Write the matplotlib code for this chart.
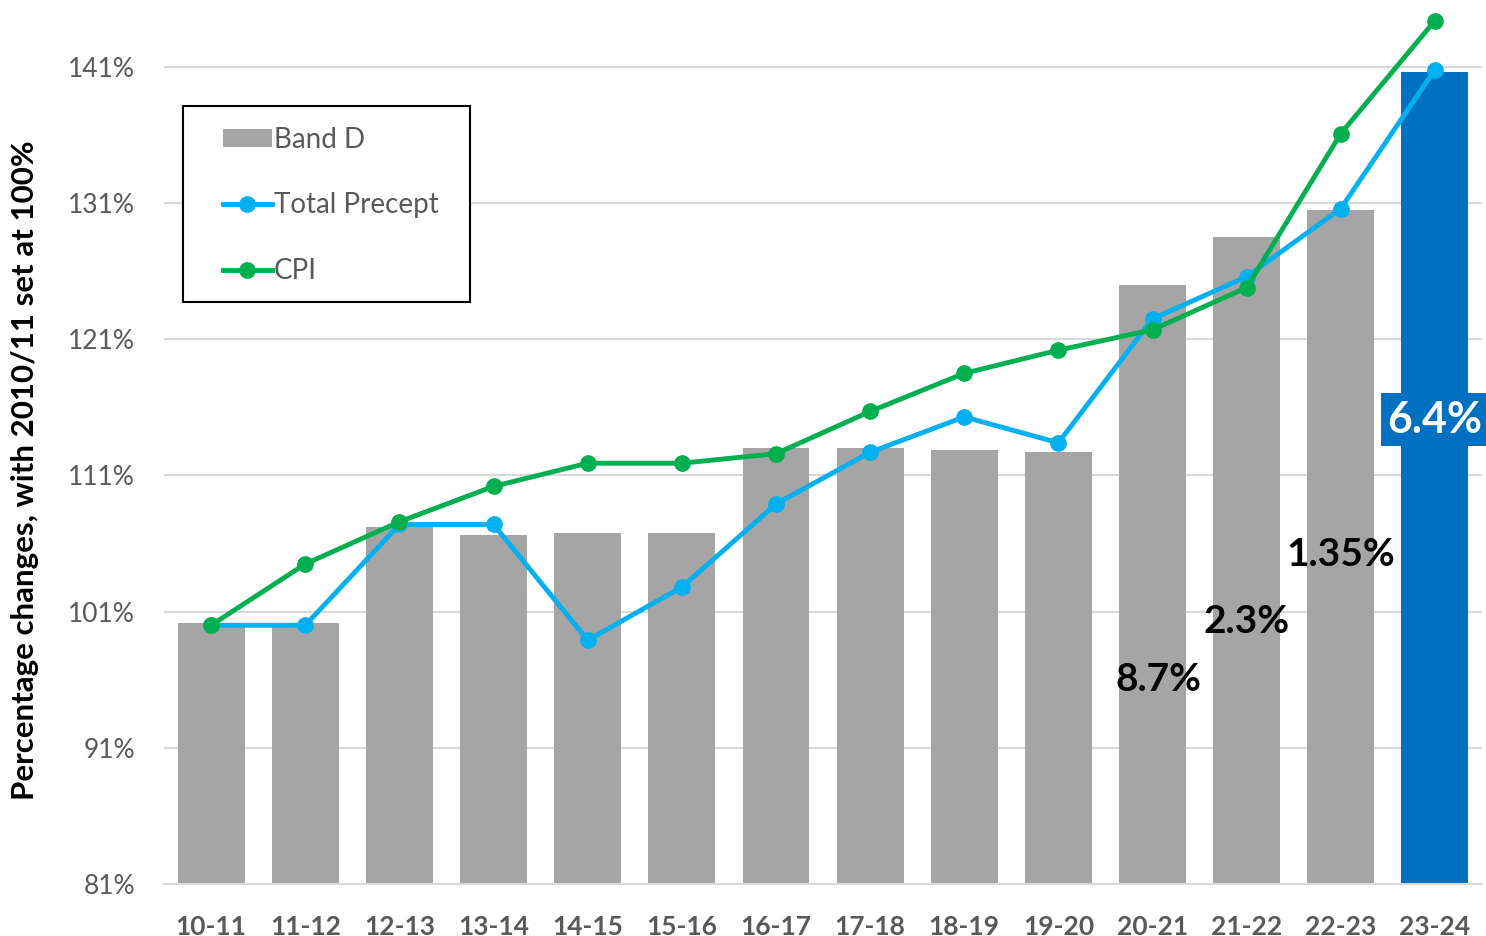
import matplotlib
matplotlib.use("Agg")
import matplotlib.pyplot as plt
from matplotlib.lines import Line2D
from matplotlib.patches import Patch, Rectangle

plt.rcParams['font.family'] = ['Lato', 'DejaVu Sans']

years = ["10-11", "11-12", "12-13", "13-14", "14-15", "15-16", "16-17",
         "17-18", "18-19", "19-20", "20-21", "21-22", "22-23", "23-24"]
band_d = [100.2, 100.2, 107.2, 106.6, 106.8, 106.8, 113.0,
          113.0, 112.9, 112.7, 125.0, 128.5, 130.5, 140.6]
total_precept = [100.0, 100.0, 107.4, 107.4, 98.9, 102.8, 108.9,
                 112.7, 115.3, 113.4, 122.5, 125.6, 130.6, 140.8]
cpi = [100.0, 104.5, 107.6, 110.2, 111.9, 111.9, 112.6,
       115.7, 118.5, 120.2, 121.7, 124.8, 136.1, 144.4]
yticks = [81, 91, 101, 111, 121, 131, 141]
annotations = [("8.7%", 10.06, 96.0), ("2.3%", 11.0, 100.3), ("1.35%", 12.0, 105.2)]
highlight = ("6.4%", 13, 115.1)

GRAY = "#A5A5A5"
BLUE_BAR = "#0070C0"
LIGHT_BLUE = "#00B0F0"
GREEN = "#00B050"
TXT = "#595959"

fig = plt.figure(figsize=(14.86, 9.36), dpi=100)
ax = fig.add_axes([0.1104, 0.05556, 0.8869, 0.9384])

x = list(range(len(years)))
colors = [GRAY] * (len(years) - 1) + [BLUE_BAR]
base = 81
ax.bar(x, [v - base for v in band_d], bottom=base, width=0.71, color=colors, zorder=2)
ax.plot(x, total_precept, color=LIGHT_BLUE, lw=3.5, marker='o', ms=11, zorder=3)
ax.plot(x, cpi, color=GREEN, lw=3.5, marker='o', ms=11, zorder=4)

ax.set_xlim(-0.5, len(years) - 0.5)
ax.set_ylim(81, 145.5)
ax.set_yticks(yticks)
ax.set_yticklabels([f"{t}%" for t in yticks], fontsize=19, color=TXT)
ax.set_xticks(x)
ax.set_xticklabels(years, fontsize=19, fontweight='bold', color=TXT)
ax.tick_params(axis='y', length=0, pad=21)
ax.tick_params(axis='x', length=0, pad=22)
ax.grid(axis='y', color="#D9D9D9", lw=1.5, zorder=0)
ax.set_axisbelow(True)
for s in ['top', 'right', 'left']:
    ax.spines[s].set_visible(False)
ax.spines['bottom'].set_color("#D9D9D9")
ax.spines['bottom'].set_linewidth(1.5)

fig.text(25 / 1486, 1 - 470 / 936, "Percentage changes, with 2010/11 set at 100%",
         rotation=90, ha='center', va='center', fontsize=22.5,
         fontweight='bold', color='black')

for txt, xi, yi in annotations:
    ax.text(xi, yi, txt, ha='center', va='center', fontsize=28,
            fontweight='bold', color='black', zorder=5)
ax.text(highlight[1], highlight[2], highlight[0], ha='center', va='center',
        fontsize=31, fontweight='bold', color='white', zorder=5,
        bbox=dict(boxstyle='square,pad=0.15', fc=BLUE_BAR, ec='none'))

# legend frame drawn separately for exact size
ax.add_patch(Rectangle((0.0144, 0.6626), 0.2178, 0.2232, transform=ax.transAxes,
                       fill=True, facecolor='white', edgecolor='black', lw=1.5,
                       zorder=6))
handles = [Patch(facecolor=GRAY, edgecolor='none'),
           Line2D([], [], color=LIGHT_BLUE, lw=3.5, marker='o', ms=11),
           Line2D([], [], color=GREEN, lw=3.5, marker='o', ms=11)]
leg = ax.legend(handles, ["Band D", "Total Precept", "CPI"], loc='upper left',
                bbox_to_anchor=(0.0448, 0.8619), borderaxespad=0, borderpad=0,
                fontsize=20, labelspacing=1.42, handlelength=1.75,
                handleheight=0.6, handletextpad=0.08, frameon=False)
leg.set_zorder(7)
for t in leg.get_texts():
    t.set_color(TXT)

fig.savefig("out.png", dpi=100)
